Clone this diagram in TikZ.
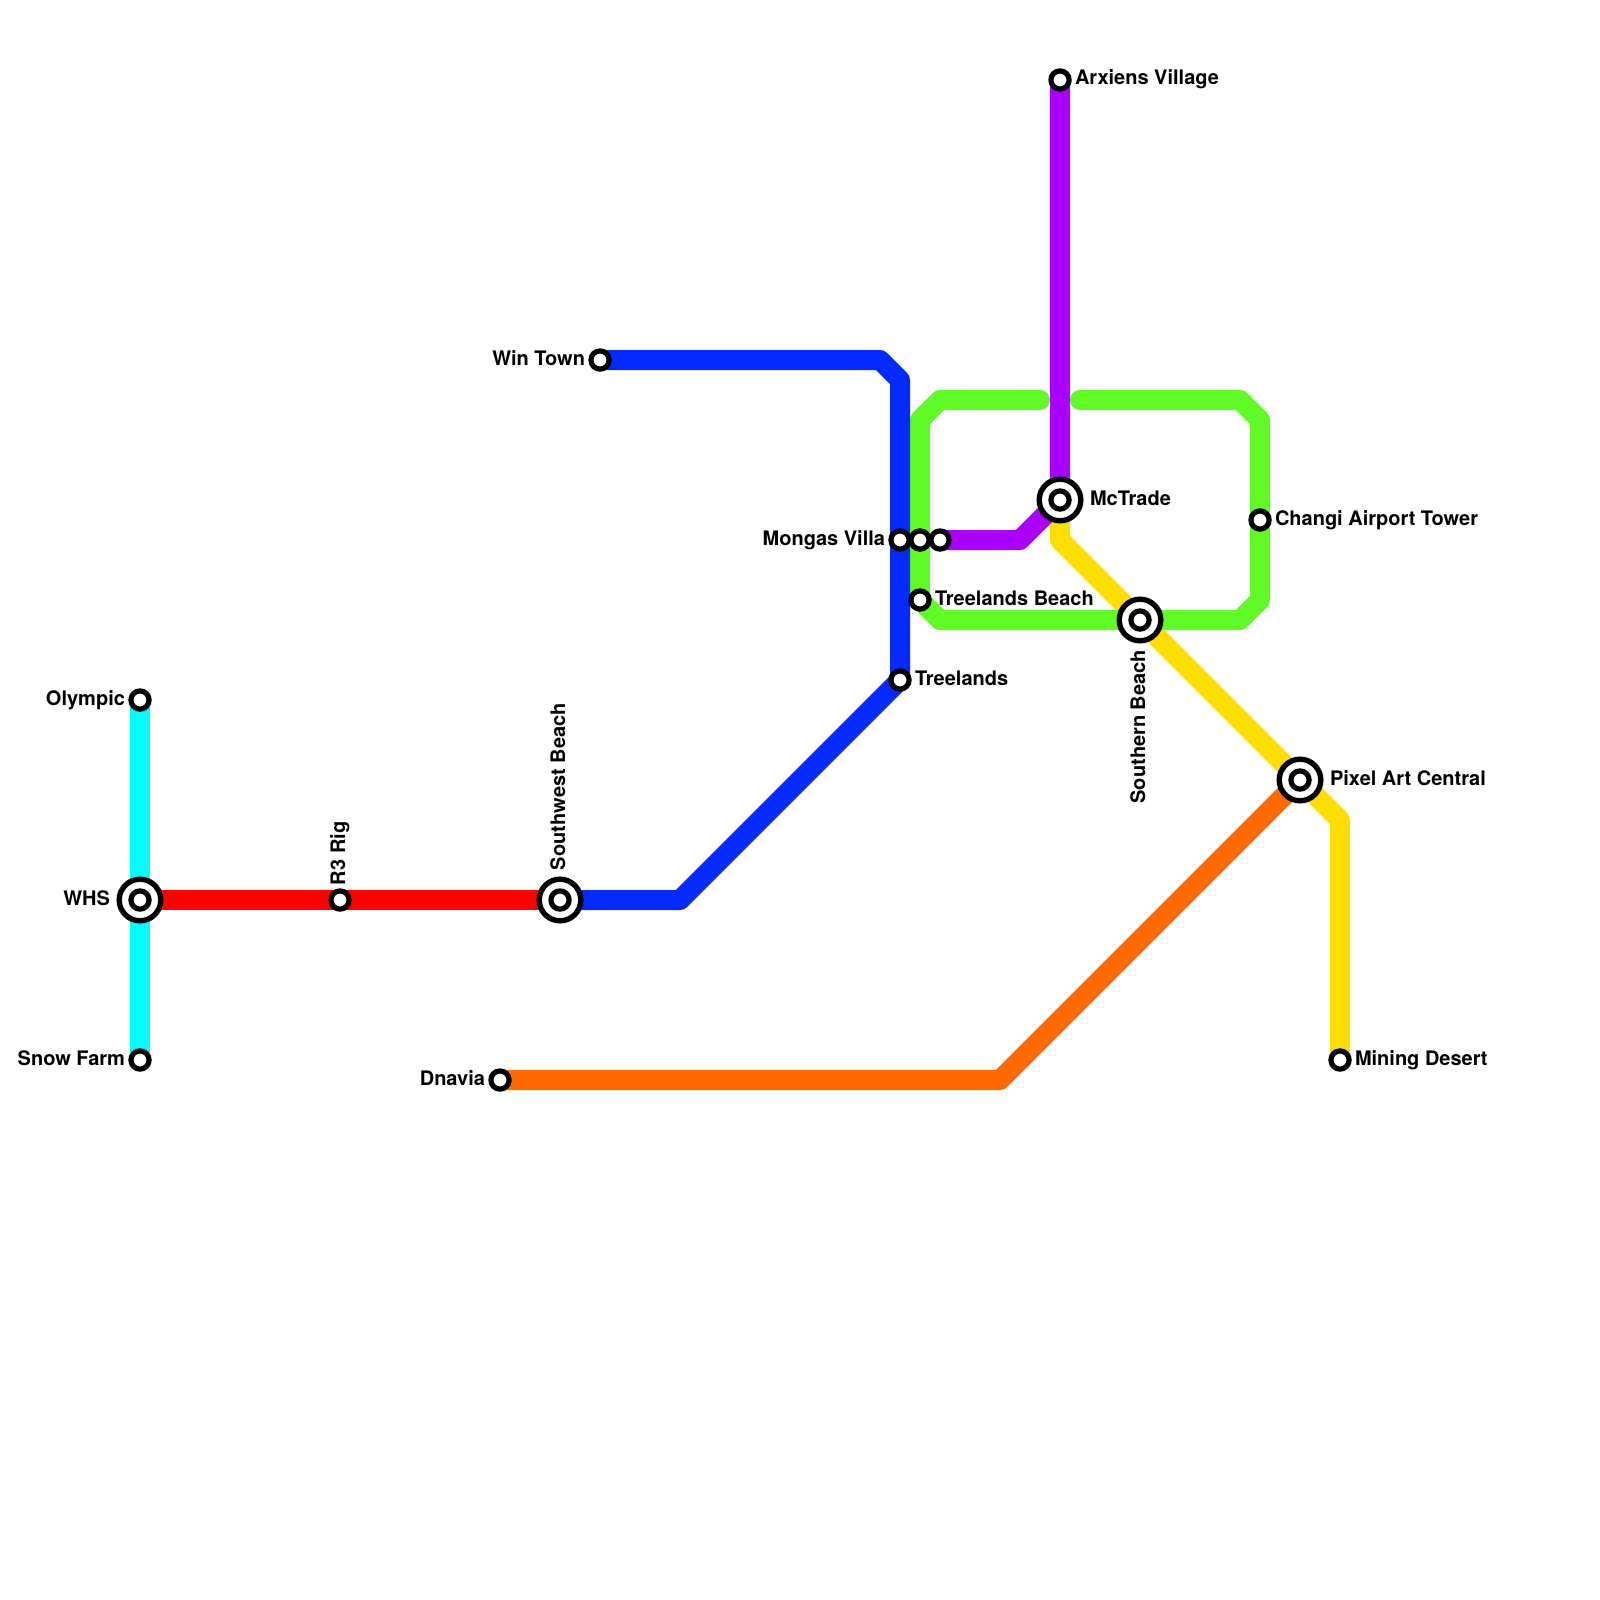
\documentclass[tikz,border=0pt]{standalone}
\usepackage{fontspec}
\setmainfont{TeX Gyre Heros}
\usetikzlibrary{backgrounds}
\definecolor{lcyan}{HTML}{00FFFF}
\definecolor{lred}{HTML}{FF0000}
\definecolor{lblue}{HTML}{042AFF}
\definecolor{lgreen}{HTML}{60FA26}
\definecolor{lpurple}{HTML}{AA00FF}
\definecolor{lyellow}{HTML}{FFDD00}
\definecolor{lorange}{HTML}{FF6A00}
\tikzset{
  metro/.style={line width=20pt,line cap=round,line join=round},
  stop/.style={circle,draw=black,fill=white,line width=5.2pt,minimum size=18.2pt,inner sep=0pt,outer sep=0pt},
  hub/.style={circle,draw=black,fill=white,line width=5.4pt,minimum size=41.6pt,inner sep=0pt,outer sep=0pt},
  lab/.style={inner sep=0pt,outer sep=0pt,font=\fontsize{20pt}{22pt}\selectfont\bfseries},
  labr/.style={lab,anchor=base west},
  labl/.style={lab,anchor=base east},
  labu/.style={lab,rotate=90,anchor=base west},
  labd/.style={lab,rotate=90,anchor=base east}
}
\begin{document}
\begin{tikzpicture}[x=1pt,y=-1pt]
\useasboundingbox (0,0) rectangle (1600,1600);
% interchange rings
\node[hub] (whsring) at (140,900) {};
\node[hub] (swbring) at (560,900) {};
\node[hub] (mctring) at (1060,500) {};
\node[hub] (sobring) at (1140,620) {};
\node[hub] (pacring) at (1300,780) {};
% stations
\node[stop] (olympic) at (140,700) {};
\node[stop] (whs) at (140,900) {};
\node[stop] (snow) at (140,1060) {};
\node[stop] (r3) at (340,900) {};
\node[stop] (swb) at (560,900) {};
\node[stop] (win) at (600,360) {};
\node[stop] (mongas) at (900,540) {};
\node[stop] (mid) at (920,540) {};
\node[stop] (pstart) at (940,540) {};
\node[stop] (tbeach) at (920,600) {};
\node[stop] (treelands) at (900,680) {};
\node[stop] (mct) at (1060,500) {};
\node[stop] (arx) at (1060,80) {};
\node[stop] (sob) at (1140,620) {};
\node[stop] (changi) at (1260,520) {};
\node[stop] (pac) at (1300,780) {};
\node[stop] (mining) at (1340,1060) {};
\node[stop] (dnavia) at (500,1080) {};
% bends
\coordinate (b1) at (880,360);
\coordinate (b2) at (900,380);
\coordinate (b3) at (680,900);
\coordinate (p1) at (1020,540);
\coordinate (y1) at (1060,540);
\coordinate (y2) at (1340,820);
\coordinate (o1) at (1000,1080);
\coordinate (g0) at (1040,400);
\coordinate (g1) at (940,400);
\coordinate (g2) at (920,420);
\coordinate (g3) at (940,620);
\coordinate (g4) at (1240,620);
\coordinate (g5) at (1260,600);
\coordinate (g6) at (1260,420);
\coordinate (g7) at (1240,400);
\coordinate (g8) at (1080,400);
% lines
\begin{scope}[on background layer]
\fill[white] (0,0) rectangle (1600,1600);
\draw[metro,lcyan] (olympic.center) -- (snow.center);
\draw[metro,lyellow] (mct.center) -- (y1) -- (pac.center) -- (y2) -- (mining.center);
\draw[metro,lgreen] (g0) -- (g1) -- (g2) -- (tbeach.center) -- (g3) -- (g4) -- (g5) -- (g6) -- (g7) -- (g8);
\draw[metro,lred] (whs.center) -- (swb.center);
\draw[metro,lblue] (swb.center) -- (b3) -- (treelands.center) -- (b2) -- (b1) -- (win.center);
\draw[metro,lpurple] (arx.center) -- (mct.center) -- (p1) -- (pstart.center);
\draw[metro,lorange] (dnavia.center) -- (o1) -- (pac.center);
\end{scope}
% labels
\node[labl] (tolympic) at (125,705) {Olympic};
\node[labl] (twhs) at (110,905) {WHS};
\node[labl] (tsnow) at (125,1065) {Snow Farm};
\node[labu] (tr3) at (345,885) {R3 Rig};
\node[labu] (tswb) at (565,870) {Southwest Beach};
\node[labl] (twin) at (585,365) {Win Town};
\node[labl] (tdnavia) at (485,1085) {Dnavia};
\node[labl] (tmongas) at (885,545) {Mongas Villa};
\node[labr] (ttbeach) at (935,605) {Treelands Beach};
\node[labr] (ttreelands) at (915,685) {Treelands};
\node[labr] (tarx) at (1075,85) {Arxiens Village};
\node[labr] (tmct) at (1090,505) {McTrade};
\node[labr] (tchangi) at (1275,525) {Changi Airport Tower};
\node[labd] (tsob) at (1145,650) {Southern Beach};
\node[labr] (tpac) at (1330,785) {Pixel Art Central};
\node[labr] (tmining) at (1355,1065) {Mining Desert};
\end{tikzpicture}
\end{document}
